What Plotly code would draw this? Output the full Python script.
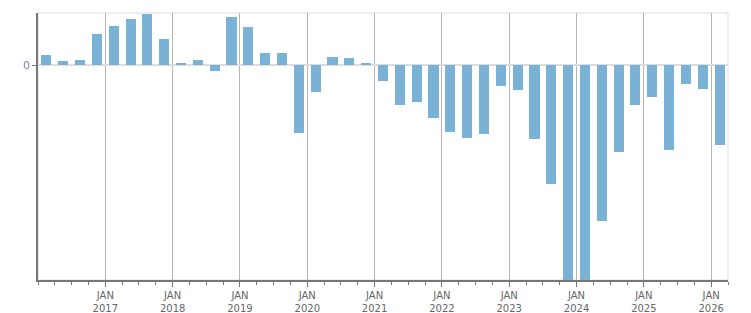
import plotly.graph_objects as go

# Quarters from 2016 Q1 to 2026 Q1
quarters = [f"{y}Q{q}" for y in range(2016, 2027) for q in range(1, 5)][:41]
values = [10, 4, 5, 31, 39, 46, 51, 26,
          2, 5, -6, 48, 38, 12, 12, -68,
          -27, 8, 7, 2, -16, -40, -37, -53,
          -67, -73, -69, -21, -25, -74, -119, -260,
          -260, -156, -87, -40, -32, -85, -19, -24,
          -80]
tick_years = list(range(2017, 2027))
tick_labels = [f"JAN<br>{y}" for y in tick_years]

x_centers = [int(q[:4]) + (int(q[-1]) - 0.5) / 4 for q in quarters]

fig = go.Figure()
fig.add_trace(go.Bar(x=x_centers, y=values, width=0.15,
                     marker=dict(color="#79b2d4", line=dict(width=0)),
                     hoverinfo="skip"))

fig.add_shape(type="rect", xref="paper", yref="paper", x0=0, x1=1, y0=0, y1=1,
              line=dict(color="#dddddd", width=1), layer="below")

fig.update_layout(
    width=751, height=313,
    margin=dict(l=38, r=23, t=13, b=33),
    plot_bgcolor="white", paper_bgcolor="white",
    showlegend=False, bargap=0,
    font=dict(family="DejaVu Sans", size=10, color="#666666"),
    xaxis=dict(range=[2016, 2026.25], tickmode="array", tickvals=tick_years,
               ticktext=tick_labels, showgrid=True, gridcolor="#b5b5b5", gridwidth=1,
               showline=True, linecolor="#777777", linewidth=2,
               ticks="outside", ticklen=5, tickcolor="#777777", tickwidth=1,
               zeroline=False, automargin=False,
               minor=dict(dtick=0.25, tick0=2016, ticks="outside", ticklen=3,
                          tickcolor="#777777", showgrid=False),
               tickfont=dict(size=10, color="#666666")),
    yaxis=dict(range=[-215, 52], tickmode="array", tickvals=[0], ticktext=["0"],
               showgrid=False, zeroline=True, zerolinecolor="#dddddd", zerolinewidth=2,
               showline=True, linecolor="#777777", linewidth=1.5, automargin=False,
               ticks="outside", ticklen=4, tickcolor="#777777",
               tickfont=dict(size=11, color="#8a7f9a")),
)

fig.write_html("out.html")
